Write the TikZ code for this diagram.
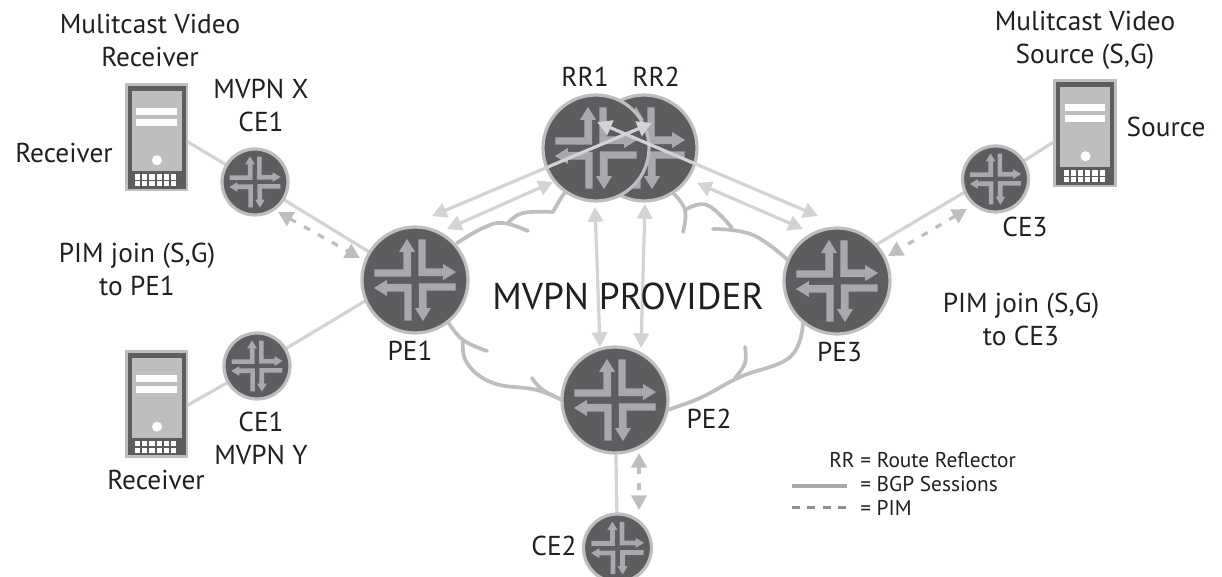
\documentclass[tikz,border=0pt]{standalone}
\usepackage{fontspec}
\setmainfont{PT Sans}
\usetikzlibrary{arrows.meta}
\pgfdeclarelayer{bg}
\pgfsetlayers{bg,main}
\definecolor{rdark}{HTML}{5C5D5F}
\definecolor{rrim}{HTML}{BCBEC0}
\definecolor{ricon}{HTML}{A7A9AC}
\definecolor{linkc}{HTML}{D1D3D4}
\definecolor{dashc}{HTML}{BCBEC0}
\definecolor{inkc}{HTML}{231F20}
\tikzset{
 routernode/.style={circle,draw=rrim,fill=rdark,line width=2.4pt,inner sep=0pt,outer sep=0pt},
 serverbox/.style={rectangle,draw=rrim,fill=rdark,line width=2pt,inner sep=0pt,outer sep=0pt,minimum width=45.5pt,minimum height=79pt},
 linkline/.style={draw=linkc,line width=2.4pt},
 duplex/.style={draw=linkc,line width=2.4pt,{Triangle[length=11pt,width=11.5pt]}-{Triangle[length=11pt,width=11.5pt]}},
 pimline/.style={draw=dashc,line width=2.4pt,dash pattern=on 5pt off 7pt,{Triangle[length=11pt,width=11.5pt]}-{Triangle[length=11pt,width=11.5pt]}},
 cloudarc/.style={draw=rrim,line width=2.8pt,line cap=round,line join=round},
 lbl/.style={text=inkc,font=\fontsize{20.5}{24.75}\selectfont,align=center,inner sep=0pt},
 lgd/.style={text=inkc,font=\fontsize{16}{19}\selectfont,anchor=west,inner sep=0pt},
}
\newcommand{\router}[4]{%
 \node[routernode,minimum size=#4*1.5pt] (#1) at (#2,#3) {};
 \begin{scope}[shift={(#1.center)},scale=#4/160]
  \foreach \a in {0,90,180,270}{
   \fill[ricon,rotate=\a] (-123,-32)--(-35,-32)--(-35,-85)--(-48,-85)--(-24,-124)--(0,-85)--(-12,-85)--(-12,-10)--(-123,-10)--cycle;
  }
 \end{scope}}
\newcommand{\server}[3]{%
 \node[serverbox] (#1) at (#2,#3) {};
 \begin{scope}[shift={(#1.center)}]
  \fill[rrim] (-25,-46) rectangle (25,34);
  \fill[white] (-20.5,-29) rectangle (20,-22);
  \fill[white] (-20.5,-18) rectangle (20,-11);
  \fill[white] (0.5,22.7) circle (5);
  \foreach \i in {0,...,5}{
   \fill[white] (-21.5+\i*7.2,36.8) rectangle +(5.2,5.6);
   \fill[white] (-21.5+\i*7.2,43.6) rectangle +(5.2,5.2);
  }
 \end{scope}}
\begin{document}
\begin{tikzpicture}[x=0.75pt,y=-0.75pt]
\useasboundingbox (0,0) rectangle (1222,577);
\clip (0,0) rectangle (1222,577);
% servers
\server{srva}{156.5}{137.5}
\server{srvb}{156.5}{404}
\server{srvc}{1085}{133.5}
% routers
\router{cea}{255}{182}{33}
\router{ceb}{257}{366}{33}
\router{cec}{995.5}{179}{33}
\router{ced}{617.5}{548}{34}
\router{pea}{415}{280}{53}
\router{peb}{615}{400}{53}
\router{pec}{837}{281}{53}
\router{rrb}{644}{148}{53}
\router{rra}{596}{148}{53}
% free ends
\coordinate (srvaport) at (156,123);
\coordinate (srvbport) at (156,423);
\coordinate (srvcport) at (1085,122);
\coordinate (peaport) at (415,271);
\coordinate (pecport) at (837,268);
\coordinate (cecport) at (995,174);
\coordinate (t1a) at (432,216); \coordinate (t1b) at (652,123);
\coordinate (t2a) at (447,229); \coordinate (t2b) at (553,182);
\coordinate (t3a) at (818,216); \coordinate (t3b) at (597,122);
\coordinate (t4a) at (803,229); \coordinate (t4b) at (697,183);
\coordinate (t5a) at (595,207); \coordinate (t5b) at (600,347);
\coordinate (t6a) at (645,204); \coordinate (t6b) at (641,348);
\coordinate (d1a) at (278,212); \coordinate (d1b) at (360,258);
\coordinate (d2a) at (967,209); \coordinate (d2b) at (888,256);
\coordinate (d3a) at (639,453); \coordinate (d3b) at (639,510);
\coordinate (lga) at (792,486); \coordinate (lgb) at (847,486);
\coordinate (lgc) at (792,507.5); \coordinate (lgd) at (847,507.5);
\begin{pgfonlayer}{bg}
 \draw[cloudarc] plot[smooth,tension=.7] coordinates {(457,243)(483,228)(503,223)(528,231)};
 \draw[cloudarc] plot[smooth,tension=.7] coordinates {(508,223)(523,213)(553,212)};
 \draw[cloudarc] plot[smooth,tension=.7] coordinates {(553,212)(563,195)(572,185)};
 \draw[cloudarc] plot[smooth,tension=.7] coordinates {(448,322)(463,340)(487,351)};
 \draw[cloudarc] plot[smooth,tension=.7] coordinates {(463,340)(467,363)(493,383)(537,390)(566,402)};
 \draw[cloudarc] plot[smooth,tension=.7] coordinates {(532,378)(543,390)(566,402)};
 \draw[cloudarc] plot[smooth,tension=.7] coordinates {(673,193)(685,210)(683,232)};
 \draw[cloudarc] plot[smooth,tension=.7] coordinates {(685,210)(707,205)(732,228)};
 \draw[cloudarc] plot[smooth,tension=.7] coordinates {(713,229)(753,235)(790,262)};
 \draw[cloudarc] plot[smooth,tension=.7] coordinates {(803,323)(790,357)(740,377)(700,398)(664,411)};
 \draw[cloudarc] plot[smooth,tension=.7] coordinates {(745,347)(745,363)(735,378)};
 \draw[linkline] (srvaport) -- (cea.center);
 \draw[linkline] (cea.center) -- (pea.center);
 \draw[linkline] (srvbport) -- (ceb.center);
 \draw[linkline] (ceb.center) -- (peaport);
 \draw[linkline] (srvcport) -- (cec.center);
 \draw[linkline] (cecport) -- (pecport);
 \draw[linkline] (peb.center) -- (ced.center);
\end{pgfonlayer}
\draw[duplex] (t1a) -- (t1b);
\draw[duplex] (t2a) -- (t2b);
\draw[duplex] (t3a) -- (t3b);
\draw[duplex] (t4a) -- (t4b);
\draw[duplex] (t5a) -- (t5b);
\draw[duplex] (t6a) -- (t6b);
\draw[pimline] (d1a) -- (d1b);
\draw[pimline] (d2a) -- (d2b);
\draw[pimline] (d3a) -- (d3b);
% labels
\node[lbl] (l1) at (150,40) {Mulitcast Video\\Receiver};
\node[lbl] (l2) at (261,105.5) {MVPN X\\CE1};
\node[lbl] (l3) at (64,153) {Receiver};
\node[lbl] (l4) at (137,269.5) {PIM join (S,G)\\to PE1};
\node[lbl] (l5) at (410,351) {PE1};
\node[lbl] (l6) at (261,438) {CE1\\MVPN Y};
\node[lbl] (l7) at (156,480) {Receiver};
\node[lbl] (l8) at (585,77) {RR1};
\node[lbl] (l9) at (656,77) {RR2};
\node[lbl] (l10) at (1085,40.5) {Mulitcast Video\\Source (S,G)};
\node[lbl] (l11) at (1166,127) {Source};
\node[lbl] (l12) at (1025,227) {CE3};
\node[lbl] (l13) at (1021,319.5) {PIM join (S,G)\\to CE3};
\node[lbl] (l14) at (839.5,352) {PE3};
\node[lbl] (l15) at (709,419) {PE2};
\node[lbl] (l16) at (554,546) {CE2};
\node[lbl,font=\fontsize{28}{32}\selectfont] (l17) at (628,296) {MVPN PROVIDER};
\node[lgd] (l18) at (829,460) {RR = Route Reflector};
\node[lgd] (l19) at (860,484) {= BGP Sessions};
\node[lgd] (l20) at (860,508) {= PIM};
\draw[draw=ricon,line width=2.6pt] (lga) -- (lgb);
\draw[draw=ricon!85!black,line width=2.6pt,dash pattern=on 6pt off 5.5pt] (lgc) -- (lgd);
\end{tikzpicture}
\end{document}
